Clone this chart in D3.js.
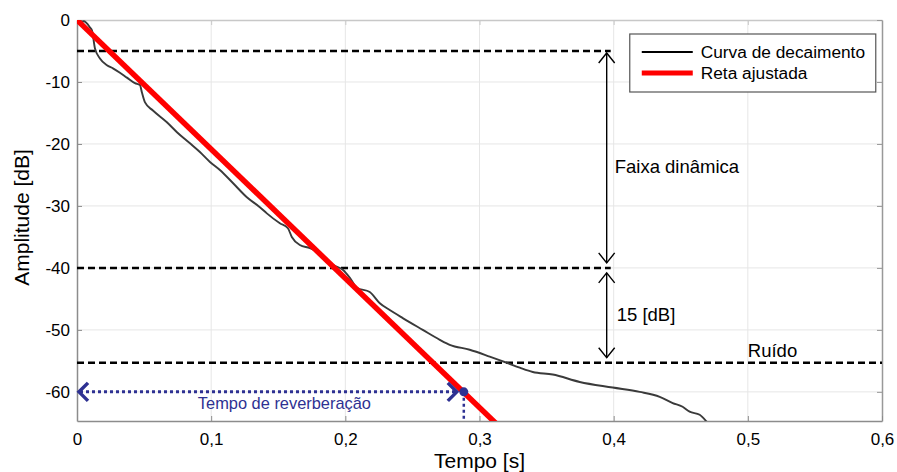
<!DOCTYPE html>
<html>
<head>
<meta charset="utf-8">
<script src="https://cdn.jsdelivr.net/npm/d3@7"></script>
<style>
  body { margin: 0; background: #fff; }
  text { font-family: "Liberation Sans", Arial, sans-serif; }
</style>
</head>
<body>
<div id="chart"></div>
<script>
// decay curve (time in s, level in dB)
var decayTime = [0, 0.0007, 0.005, 0.0097, 0.0112, 0.0134, 0.0171, 0.0223, 0.0268, 0.032, 0.0372, 0.0432, 0.0469, 0.0484, 0.0507, 0.0566, 0.067, 0.0745, 0.0842, 0.0916, 0.0991, 0.1065, 0.1162, 0.1266, 0.1363, 0.1415, 0.1512, 0.1572, 0.1601, 0.1661, 0.1736, 0.181, 0.1907, 0.1981, 0.2034, 0.2086, 0.2182, 0.2257, 0.2331, 0.2428, 0.2577, 0.2704, 0.2778, 0.2927, 0.3076, 0.3203, 0.33, 0.3397, 0.3546, 0.3747, 0.3993, 0.4194, 0.4343, 0.444, 0.4514, 0.4566, 0.4641, 0.4693, 0.472];
var decayLevel = [0, -0.4, -0.2, -1.2, -1.7, -4.6, -6.2, -7.3, -7.8, -8.5, -9.3, -10.2, -10.5, -11.7, -13.3, -14.6, -16.5, -18.1, -19.9, -21.3, -22.9, -24.2, -26.3, -28.6, -30.2, -31.2, -32.8, -33.6, -35.0, -36.3, -36.8, -37.6, -39.5, -40.3, -41.6, -43.2, -43.9, -45.7, -46.8, -48.1, -50.0, -51.6, -52.4, -53.2, -54.3, -55.3, -56.1, -56.8, -57.2, -58.4, -59.3, -60.0, -60.8, -61.8, -62.4, -63.2, -63.7, -64.8, -65.5];

// fitted line
var fitTime = [0, 0.32];
var fitLevel = [0, -66.7];

var xTicks = [0, 0.1, 0.2, 0.3, 0.4, 0.5, 0.6];
var xTickLabels = ["0", "0,1", "0,2", "0,3", "0,4", "0,5", "0,6"];
var yTicks = [0, -10, -20, -30, -40, -50, -60];
var yTickLabels = ["0", "-10", "-20", "-30", "-40", "-50", "-60"];

// reference levels
var topLevel = -5;
var kneeLevel = -40;
var noiseLevel = -55.3;
var rangeX = 0.3948;
var rtTime = 0.2883;
var rtLevel = -60;

var legendNames = ["Curva de decaimento", "Reta ajustada"];

var svgWidth = 897;
var svgHeight = 472;
var margin = { top: 20, right: 15, bottom: 51, left: 77 };
var width = svgWidth - margin.left - margin.right;
var height = svgHeight - margin.top - margin.bottom;

var svg = d3.select("#chart")
  .append("svg")
  .attr("width", svgWidth)
  .attr("height", svgHeight);

var chartGroup = svg.append("g")
  .attr("transform", `translate(${margin.left}, ${margin.top})`);

var x = d3.scaleLinear().domain([0, 0.6]).range([0, width]);
var y = d3.scaleLinear().domain([-64.7, 0]).range([height, 0]);

svg.append("defs").append("clipPath").attr("id", "plotClip")
  .append("rect").attr("width", width).attr("height", height);

// grid
chartGroup.selectAll(".vgrid").data(xTicks.slice(1, -1)).enter()
  .append("line")
  .attr("x1", d => x(d)).attr("x2", d => x(d))
  .attr("y1", 0).attr("y2", height)
  .attr("stroke", "#e6e6e6").attr("stroke-width", 1);
chartGroup.selectAll(".hgrid").data(yTicks.slice(1)).enter()
  .append("line")
  .attr("x1", 0).attr("x2", width)
  .attr("y1", d => y(d)).attr("y2", d => y(d))
  .attr("stroke", "#e6e6e6").attr("stroke-width", 1);

// axes (ticks inward)
var bottomAxis = d3.axisBottom(x).tickValues(xTicks)
  .tickFormat((d, i) => xTickLabels[i]).tickSizeInner(-5).tickSizeOuter(0).tickPadding(12);
var leftAxis = d3.axisLeft(y).tickValues(yTicks)
  .tickFormat((d, i) => yTickLabels[i]).tickSizeInner(-5).tickSizeOuter(0).tickPadding(7);
var topAxis = d3.axisTop(x).tickValues(xTicks).tickFormat("").tickSizeInner(-5).tickSizeOuter(0);
var rightAxis = d3.axisRight(y).tickValues(yTicks).tickFormat("").tickSizeInner(-5).tickSizeOuter(0);

function styleAxis(g, col) {
  g.selectAll("path").attr("stroke", col).attr("stroke-width", 1.5);
  g.selectAll("line").attr("stroke", col);
  g.selectAll("text").attr("fill", "#000").style("font-size", "17px")
    .style("font-family", "'Liberation Sans', Arial, sans-serif");
}

chartGroup.append("g").call(topAxis).call(g => styleAxis(g, "#c8c8c8"));
chartGroup.append("g").attr("transform", `translate(${width},0)`).call(rightAxis).call(g => styleAxis(g, "#999"));
chartGroup.append("g").attr("transform", `translate(0, ${height})`).call(bottomAxis).call(g => styleAxis(g, "#8c8c8c"));
chartGroup.append("g").call(leftAxis).call(g => styleAxis(g, "#8c8c8c"));

var plot = chartGroup.append("g").attr("clip-path", "url(#plotClip)");

// dashed reference lines
var dashed = [[topLevel, rangeX + 0.003], [kneeLevel, rangeX + 0.003], [noiseLevel, 0.6]];
plot.selectAll(".ref").data(dashed).enter()
  .append("line")
  .attr("x1", 0).attr("x2", d => x(d[1]))
  .attr("y1", d => y(d[0])).attr("y2", d => y(d[0]))
  .attr("stroke", "#000").attr("stroke-width", 2.5)
  .attr("stroke-dasharray", "7,4");

// decay curve
var decayLine = d3.line()
  .x((d, i) => x(decayTime[i]))
  .y(d => y(d))
  .curve(d3.curveMonotoneX);
plot.append("path")
  .datum(decayLevel)
  .attr("d", decayLine)
  .attr("fill", "none")
  .attr("stroke", "#3a3a3a")
  .attr("stroke-width", 1.9);

// fitted line
plot.append("line")
  .attr("x1", x(fitTime[0])).attr("y1", y(fitLevel[0]))
  .attr("x2", x(fitTime[1])).attr("y2", y(fitLevel[1]))
  .attr("stroke", "#ff0000").attr("stroke-width", 5.5);

// vertical double arrows
function arrowV(xv, y1, y2) {
  var g = chartGroup.append("g").attr("stroke", "#000").attr("fill", "none").attr("stroke-width", 1.4);
  g.append("line").attr("x1", xv).attr("x2", xv).attr("y1", y1).attr("y2", y2);
  g.append("path").attr("d", `M${xv - 8},${y1 + 10}L${xv},${y1}L${xv + 8},${y1 + 10}`);
  g.append("path").attr("d", `M${xv - 8},${y2 - 10}L${xv},${y2}L${xv + 8},${y2 - 10}`);
}
arrowV(x(rangeX), y(topLevel) + 2, y(kneeLevel) - 5);
arrowV(x(rangeX), y(kneeLevel) + 5, y(noiseLevel) - 5);

chartGroup.append("text")
  .attr("x", x(rangeX) + 8).attr("y", y((topLevel + kneeLevel) / 2) + 14)
  .style("font-size", "18.5px").text("Faixa dinâmica");
chartGroup.append("text")
  .attr("x", x(rangeX) + 10).attr("y", y((kneeLevel + noiseLevel) / 2) + 6)
  .style("font-size", "18.5px").text("15 [dB]");
chartGroup.append("text")
  .attr("x", x(0.5)).attr("y", y(noiseLevel) - 6)
  .style("font-size", "18.5px").text("Ruído");

// reverberation time annotation
var blue = "#2e3192";
var rt = chartGroup.append("g").attr("stroke", blue).attr("fill", "none");
rt.append("line")
  .attr("x1", x(0) + 3).attr("x2", x(rtTime) - 7)
  .attr("y1", y(rtLevel)).attr("y2", y(rtLevel))
  .attr("stroke-width", 3).attr("stroke-dasharray", "3,3");
rt.append("path")
  .attr("d", `M${x(0) + 11},${y(rtLevel) - 9}L${x(0) + 2},${y(rtLevel)}L${x(0) + 11},${y(rtLevel) + 9}`)
  .attr("stroke-width", 3.5);
rt.append("path")
  .attr("d", `M${x(rtTime) - 16},${y(rtLevel) - 9}L${x(rtTime) - 7},${y(rtLevel)}L${x(rtTime) - 16},${y(rtLevel) + 9}`)
  .attr("stroke-width", 3.5);
rt.append("line")
  .attr("x1", x(rtTime)).attr("x2", x(rtTime))
  .attr("y1", y(rtLevel)).attr("y2", height)
  .attr("stroke-width", 2.5).attr("stroke-dasharray", "3,3");
chartGroup.append("circle")
  .attr("cx", x(rtTime)).attr("cy", y(rtLevel)).attr("r", 4.5)
  .attr("fill", blue);
chartGroup.append("text")
  .attr("x", x(rtTime / 2) + 14).attr("y", y(rtLevel) + 17)
  .attr("text-anchor", "middle")
  .attr("fill", blue)
  .style("font-size", "16.4px").text("Tempo de reverberação");

// legend
var legend = chartGroup.append("g").attr("transform", `translate(${x(0.412)}, ${14})`);
legend.append("rect")
  .attr("width", 246).attr("height", 58)
  .attr("fill", "#fff").attr("stroke", "#555").attr("stroke-width", 1.2);
legend.append("line").attr("x1", 12).attr("x2", 63).attr("y1", 18).attr("y2", 18)
  .attr("stroke", "#000").attr("stroke-width", 2);
legend.append("line").attr("x1", 12).attr("x2", 63).attr("y1", 39).attr("y2", 39)
  .attr("stroke", "#ff0000").attr("stroke-width", 5);
legend.selectAll(".lt").data(legendNames).enter()
  .append("text")
  .attr("x", 71).attr("y", (d, i) => 24 + i * 21)
  .style("font-size", "17.3px")
  .text(d => d);

// axis labels
chartGroup.append("text")
  .attr("transform", "rotate(-90)")
  .attr("x", -height / 2 + 3).attr("y", -margin.left + 29)
  .attr("text-anchor", "middle")
  .style("font-size", "21px")
  .text("Amplitude [dB]");
chartGroup.append("text")
  .attr("x", width / 2).attr("y", height + 47)
  .attr("text-anchor", "middle")
  .style("font-size", "21px")
  .text("Tempo [s]");
</script>
</body>
</html>
